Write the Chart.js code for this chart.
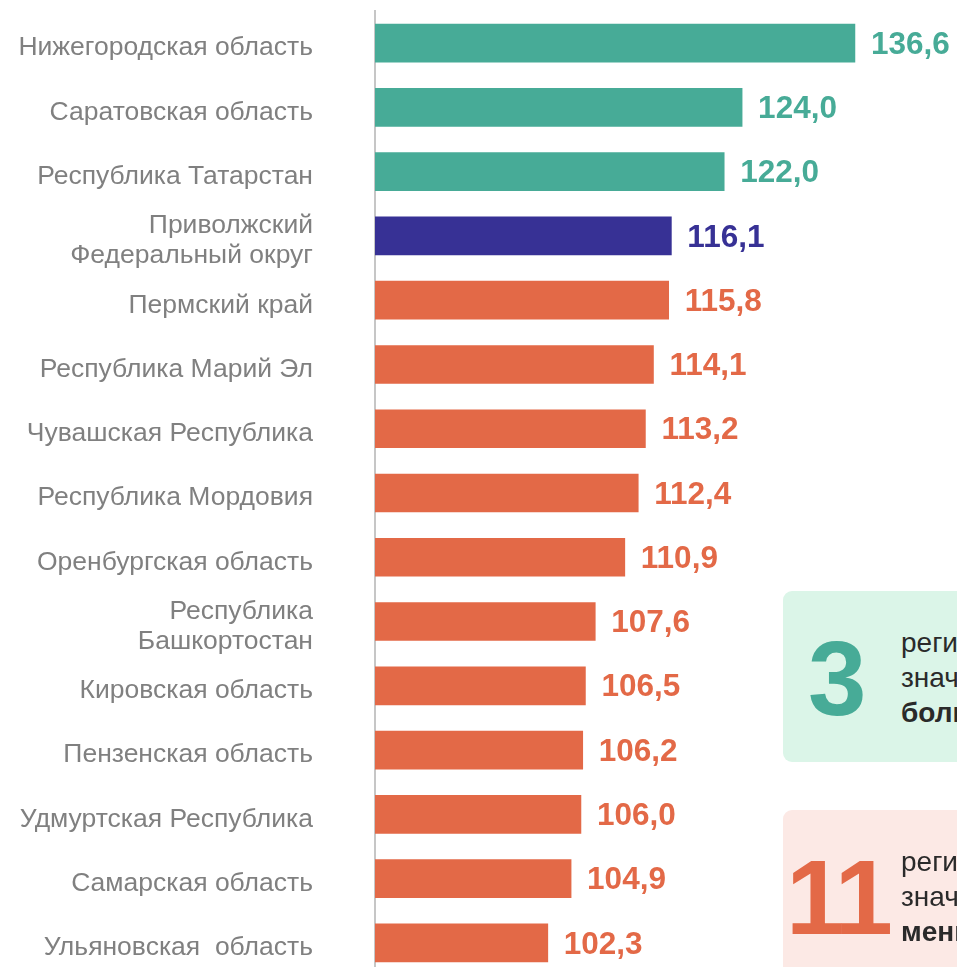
<!DOCTYPE html>
<html>
<head>
<meta charset="utf-8">
<script src="https://cdn.jsdelivr.net/npm/chart.js@4"></script>
<style>
  body{margin:0;overflow:hidden;background:#fff;font-family:"Liberation Sans",Arial,sans-serif;}
  #wrap{position:relative;width:957px;height:967px;overflow:hidden;}
  #chart{position:absolute;left:0;top:0;}
  .box{position:absolute;left:783px;width:260px;border-radius:9px;}
  .big{position:absolute;font-family:"Liberation Sans",Arial,sans-serif;font-weight:bold;line-height:1;font-size:105px;}
  .txt{position:absolute;left:118px;font-size:28px;line-height:35px;color:#2a2a2a;white-space:nowrap;}
</style>
</head>
<body>
<div id="wrap">
  <canvas id="chart" width="957" height="975"></canvas>
  <div class="box" style="top:591px;height:171px;background:#dbf5e8;">
    <div class="big" style="left:25px;top:35px;color:#47ab97;">3</div>
    <div class="txt" style="top:34px;">региона имеют<br>значение индекса<br><b>больше</b></div>
  </div>
  <div class="box" style="top:810px;height:180px;background:#fce9e5;">
    <div class="big" style="left:3px;top:35px;color:#e36947;letter-spacing:-4px;">11</div>
    <div class="txt" style="top:34px;">регионов имеют<br>значение индекса<br><b>меньше</b></div>
  </div>
</div>
<script>
var regions=[
  'Нижегородская область',
  'Саратовская область',
  'Республика Татарстан',
  ['Приволжский','Федеральный округ'],
  'Пермский край',
  'Республика Марий Эл',
  'Чувашская Республика',
  'Республика Мордовия',
  'Оренбургская область',
  ['Республика','Башкортостан'],
  'Кировская область',
  'Пензенская область',
  'Удмуртская Республика',
  'Самарская область',
  'Ульяновская  область'
];
var values=[136.6,124.0,122.0,116.1,115.8,114.1,113.2,112.4,110.9,107.6,106.5,106.2,106.0,104.9,102.3];
var groups=['above','above','above','district','below','below','below','below','below','below','below','below','below','below','below'];
var groupColors={above:'#47ab97',district:'#373195',below:'#e36947'};
var barColors=groups.map(function(g){return groupColors[g];});

var valueLabels={
  id:'valueLabels',
  afterDatasetsDraw:function(chart){
    var ctx=chart.ctx;
    var meta=chart.getDatasetMeta(0);
    ctx.save();
    ctx.font='bold 31.5px "Liberation Sans", Arial, sans-serif';
    ctx.textBaseline='middle';
    ctx.textAlign='left';
    meta.data.forEach(function(bar,i){
      ctx.fillStyle=barColors[i];
      ctx.fillText(values[i].toFixed(1).replace('.',','),bar.x+16,bar.y+2);
    });
    ctx.restore();
  }
};

var chart=new Chart(document.getElementById('chart'),{
  type:'bar',
  data:{
    labels:regions,
    datasets:[{
      data:values,
      backgroundColor:barColors,
      borderWidth:0,
      barThickness:38
    }]
  },
  options:{
    indexAxis:'y',
    responsive:false,
    animation:false,
    layout:{padding:{top:11,bottom:0,left:0,right:0}},
    plugins:{legend:{display:false},tooltip:{enabled:false}},
    scales:{
      x:{display:false,min:83,max:148},
      y:{
        grid:{display:false,drawTicks:false},
        border:{display:true,color:'#c6c6c6',width:2},
        ticks:{
          color:'#808080',
          padding:62,
          labelOffset:5,
          font:{family:'"Liberation Sans", Arial, sans-serif',size:26.5,lineHeight:1.13}
        },
        afterFit:function(scale){
          scale.width=375;
          scale.paddingTop=0;
          scale.paddingBottom=0;
        }
      }
    }
  },
  plugins:[valueLabels]
});
</script>
</body>
</html>
